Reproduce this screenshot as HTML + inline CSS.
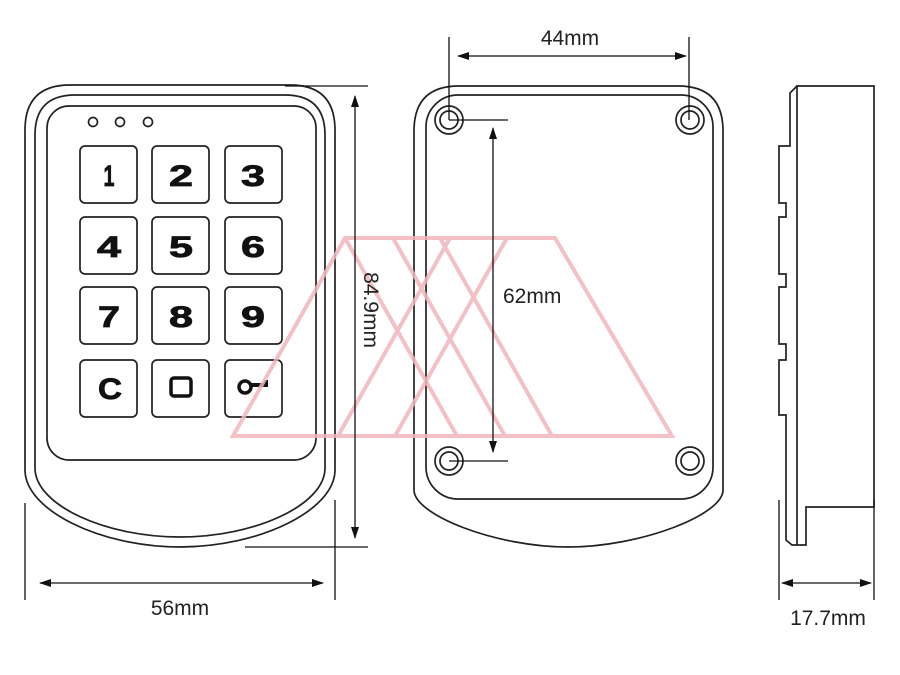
<!DOCTYPE html>
<html><head><meta charset="utf-8"><style>html,body{margin:0;padding:0;background:#fff}svg{display:block}</style></head>
<body>
<svg width="900" height="675" viewBox="0 0 900 675" xmlns="http://www.w3.org/2000/svg">
<defs>
<marker id="a" markerWidth="12" markerHeight="8" refX="11" refY="4" orient="auto-start-reverse" markerUnits="userSpaceOnUse"><path d="M0,0 L12,4 L0,8 Z" fill="#111"/></marker>
</defs>
<g fill="none" stroke="#222" stroke-width="1.7">
<path d="M25,130 Q25,85 70,85 L290,85 Q335,85 335,130 L335,470 C335,510 260,547 180,547 C100,547 25,510 25,470 Z"/>
<path d="M35,135 Q35,95 75,95 L285,95 Q325,95 325,135 L325,468 C325,505 255,537 180,537 C105,537 35,505 35,468 Z"/>
<rect x="47" y="106" width="269" height="354" rx="22"/>
<circle cx="93" cy="122" r="4.5"/><circle cx="120" cy="122" r="4.5"/><circle cx="148" cy="122" r="4.5"/>
<rect x="80" y="146" width="57" height="57" rx="5"/><rect x="152" y="146" width="57" height="57" rx="5"/><rect x="225" y="146" width="57" height="57" rx="5"/>
<rect x="80" y="217" width="57" height="57" rx="5"/><rect x="152" y="217" width="57" height="57" rx="5"/><rect x="225" y="217" width="57" height="57" rx="5"/>
<rect x="80" y="287" width="57" height="57" rx="5"/><rect x="152" y="287" width="57" height="57" rx="5"/><rect x="225" y="287" width="57" height="57" rx="5"/>
<rect x="80" y="360" width="57" height="57" rx="5"/><rect x="152" y="360" width="57" height="57" rx="5"/><rect x="225" y="360" width="57" height="57" rx="5"/>
<path d="M414,131 Q414,86 459,86 L678,86 Q723,86 723,131 L723,490 C723,515 640,547 568,547 C496,547 414,515 414,490 Z"/>
<rect x="426" y="95" width="287" height="404" rx="32"/>
<circle cx="449" cy="120" r="14"/><circle cx="449" cy="120" r="9"/>
<circle cx="690" cy="120" r="14"/><circle cx="690" cy="120" r="9"/>
<circle cx="449" cy="461" r="14"/><circle cx="449" cy="461" r="9"/>
<circle cx="690" cy="461" r="14"/><circle cx="690" cy="461" r="9"/>
<path d="M797,86 L874,86 L874,507 L806,507 L806,545 L797,545 Z"/>
<path d="M797,86 L790,93 L790,146 L779,146 L779,203 L786,203 L786,217 L779,217 L779,274 L786,274 L786,287 L779,287 L779,344 L786,344 L786,360 L779,360 L779,415 L786,415 L786,540 L792,545 L797,545"/>
</g>
<g font-family="'Liberation Sans',sans-serif" font-weight="bold" font-size="30" fill="#111" stroke="#111" stroke-width="0.8" text-anchor="middle">
<text x="109" y="186" textLength="11" lengthAdjust="spacingAndGlyphs">1</text>
<text x="181" y="186" textLength="24" lengthAdjust="spacingAndGlyphs">2</text>
<text x="253" y="186" textLength="24" lengthAdjust="spacingAndGlyphs">3</text>
<text x="109" y="257" textLength="24" lengthAdjust="spacingAndGlyphs">4</text>
<text x="181" y="257" textLength="24" lengthAdjust="spacingAndGlyphs">5</text>
<text x="253" y="257" textLength="24" lengthAdjust="spacingAndGlyphs">6</text>
<text x="109" y="327" textLength="22" lengthAdjust="spacingAndGlyphs">7</text>
<text x="181" y="327" textLength="24" lengthAdjust="spacingAndGlyphs">8</text>
<text x="253" y="327" textLength="24" lengthAdjust="spacingAndGlyphs">9</text>
<text x="110" y="399" textLength="24" lengthAdjust="spacingAndGlyphs">C</text>
</g>
<rect x="171" y="378" width="20" height="18" rx="3" fill="none" stroke="#111" stroke-width="3.5"/>
<circle cx="245" cy="387" r="6" fill="none" stroke="#111" stroke-width="3.5"/>
<path d="M250,385 L266,385 L266,380" fill="none" stroke="#111" stroke-width="4"/>
<g fill="none" stroke="#f2b6bb" stroke-width="4" opacity="0.85">
<path d="M345,238 L555,238 L672,436 L233,436 Z"/>
<path d="M345,238 L457,436 M393,238 L505,436 M440,238 L552,436 M450,238 L338,436 M507,238 L395,436"/>
</g>
<g stroke="#111" stroke-width="1.3" fill="none">
<path d="M285,86 L368,86 M245,547 L368,547"/>
<path d="M355,96 L355,538" marker-start="url(#a)" marker-end="url(#a)"/>
<path d="M25,503 L25,600 M335,500 L335,600"/>
<path d="M40,583 L323,583" marker-start="url(#a)" marker-end="url(#a)"/>
<path d="M449,37 L449,120 M689,37 L689,120"/>
<path d="M458,56 L686,56" marker-start="url(#a)" marker-end="url(#a)"/>
<path d="M449,120 L508,120 M449,461 L508,461"/>
<path d="M493,128 L493,452" marker-start="url(#a)" marker-end="url(#a)"/>
<path d="M779,500 L779,600 M874,500 L874,600"/>
<path d="M782,583 L871,583" marker-start="url(#a)" marker-end="url(#a)"/>
</g>
<g font-family="'Liberation Sans',sans-serif" font-size="21" fill="#222">
<text x="180" y="615" text-anchor="middle">56mm</text>
<text x="570" y="45" text-anchor="middle">44mm</text>
<text x="503" y="303">62mm</text>
<text x="828" y="625" text-anchor="middle">17.7mm</text>
<text transform="translate(364,310) rotate(90)" text-anchor="middle">84.9mm</text>
</g>
</svg>
</body></html>
